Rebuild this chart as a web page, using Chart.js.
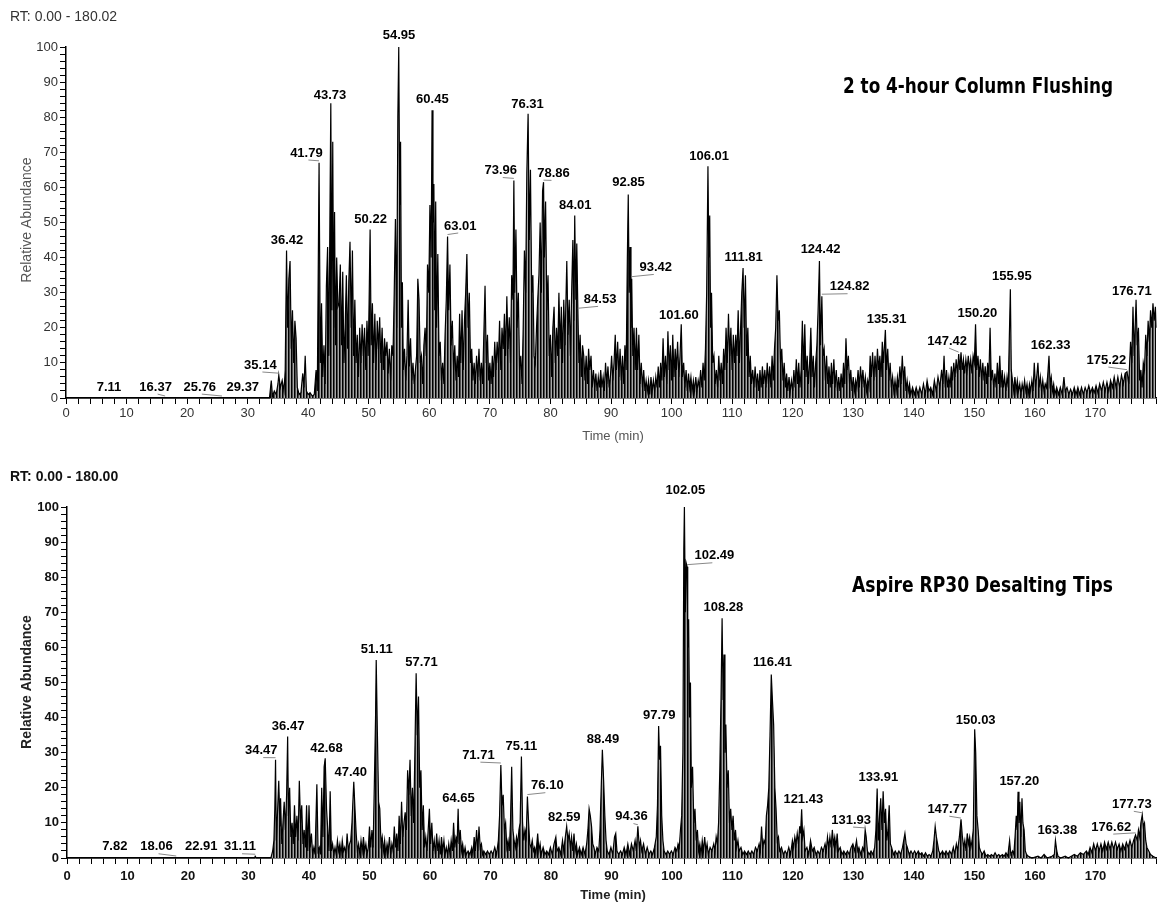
<!DOCTYPE html>
<html>
<head>
<meta charset="utf-8">
<script src="https://cdn.jsdelivr.net/npm/chart.js@4.4.0/dist/chart.umd.min.js"></script>
<style>
    body { margin: 0; background: #fff; }
    #wrap { position: relative; width: 1176px; height: 903px; }
    .panel { position: absolute; left: 0; width: 1176px; }
    #top_box { top: 0; height: 450px; }
    #bottom_box { top: 450px; height: 453px; }
</style>
</head>
<body>
<div id="wrap">
    <div class="panel" id="top_box"><canvas id="topChart"></canvas></div>
    <div class="panel" id="bottom_box"><canvas id="bottomChart"></canvas></div>
</div>
<script>
// ---- top run: 2 to 4-hour column flushing ----
const topTrace = [
    [0,0],[33.6,0],[33.9,5],[34.1,0.5],[34.4,2],[34.7,1],[35.0,4],[35.14,6.5],[35.4,3],[35.7,5],[36.0,2],[36.2,8],
    [36.42,42],[36.6,20],[36.8,34],[37.0,39],[37.2,14],[37.4,25],[37.6,10],[37.8,22],[38.0,17],[38.2,3],[38.5,1],[38.8,1.5],
    [39.1,7],[39.3,3],[39.5,12],[39.7,2],[40.0,1],[40.3,1.5],[40.7,0.5],[41.0,1],[41.3,8],[41.5,2],[41.79,67],[42.0,10],
    [42.2,27],[42.4,6],[42.6,15],[42.8,4],[43.0,32],[43.2,43],[43.4,12],[43.73,84],[43.9,25],[44.05,73],[44.2,20],[44.35,53],
    [44.5,15],[44.7,40],[44.9,26],[45.1,27],[45.3,38],[45.5,15],[45.7,36],[45.9,10],[46.1,20],[46.3,35],[46.5,14],[46.7,33],
    [46.9,44.5],[47.1,20],[47.3,42],[47.5,12],[47.7,28],[47.9,10],[48.1,18],[48.3,6],[48.5,20],[48.7,10],[48.9,21],[49.1,12],
    [49.3,20],[49.5,8],[49.7,22],[49.9,12],[50.05,27],[50.22,48],[50.4,15],[50.6,27],[50.8,10],[51.0,24],[51.2,8],[51.4,22],
    [51.6,14],[51.8,23],[52.0,10],[52.2,20],[52.4,8],[52.6,17],[52.8,12],[53.0,16],[53.2,7],[53.4,14],[53.6,5],[53.8,15],
    [54.0,12],[54.2,30],[54.4,51],[54.6,20],[54.8,80],[54.95,100],[55.1,55],[55.25,73],[55.4,20],[55.55,33],[55.7,8],[55.9,14],
    [56.1,5],[56.3,12],[56.5,28],[56.7,9],[56.9,17],[57.1,5],[57.3,10],[57.5,4],[57.7,8],[57.9,12],[58.1,34],[58.3,28],
    [58.5,10],[58.7,12],[58.9,4],[59.1,15],[59.3,20],[59.5,12],[59.7,38],[59.9,30],[60.1,55],[60.3,40],[60.45,82],[60.6,50],
    [60.75,61],[60.9,25],[61.05,56],[61.2,20],[61.4,41],[61.6,12],[61.8,16],[62.0,5],[62.2,10],[62.4,4],[62.6,18],[62.8,28],
    [63.01,46],[63.2,25],[63.4,38],[63.6,15],[63.8,22],[64.0,8],[64.2,15],[64.4,5],[64.6,12],[64.8,6],[65.0,24],[65.2,10],
    [65.4,25],[65.6,8],[65.8,22],[66.0,30],[66.2,41],[66.4,20],[66.6,30],[66.8,10],[67.0,14],[67.2,5],[67.4,10],[67.6,4],
    [67.8,12],[68.0,6],[68.2,14],[68.4,5],[68.6,10],[68.8,4],[69.0,18],[69.2,32],[69.4,10],[69.6,18],[69.8,5],[70.0,10],
    [70.2,4],[70.4,12],[70.6,6],[70.8,16],[71.0,8],[71.2,16],[71.4,10],[71.6,22],[71.8,8],[72.0,20],[72.2,14],[72.4,24],
    [72.6,12],[72.8,29],[73.0,14],[73.2,23],[73.4,10],[73.6,35],[73.8,28],[73.96,62],[74.1,30],[74.3,48],[74.5,20],[74.7,30],
    [74.9,8],[75.1,12],[75.3,4],[75.5,20],[75.7,42],[75.9,30],[76.1,64],[76.31,81],[76.5,45],[76.7,65],[76.9,30],[77.1,35],
    [77.3,12],[77.5,10],[77.7,20],[77.9,28],[78.1,35],[78.3,50],[78.5,30],[78.7,59],[78.86,61.5],[79.0,40],[79.2,56],[79.4,25],
    [79.6,35],[79.8,12],[80.0,18],[80.2,6],[80.4,20],[80.6,26],[80.8,10],[81.0,20],[81.2,12],[81.4,30],[81.6,14],[81.8,26],
    [82.0,10],[82.2,28],[82.4,15],[82.7,39],[82.9,18],[83.1,28],[83.3,12],[83.5,30],[83.7,45],[83.85,22],[84.01,52],[84.2,28],
    [84.35,44],[84.53,25],[84.7,10],[84.9,18],[85.1,6],[85.3,15],[85.5,12],[85.7,5],[85.9,12],[86.1,4],[86.3,14],[86.5,8],
    [86.7,12],[86.9,3],[87.1,8],[87.3,3],[87.5,7],[87.7,2],[87.9,6],[88.1,3],[88.3,8],[88.5,3],[88.7,6],[88.9,2],
    [89.1,10],[89.3,4],[89.5,9],[89.7,3],[89.9,6],[90.1,12],[90.3,5],[90.5,10],[90.7,18],[90.9,8],[91.1,16],[91.3,6],
    [91.5,14],[91.7,5],[91.9,12],[92.1,4],[92.3,15],[92.5,8],[92.7,40],[92.85,58],[93.0,30],[93.15,43],[93.3,20],[93.42,34],
    [93.6,12],[93.8,20],[94.0,8],[94.2,20],[94.4,8],[94.6,18],[94.8,4],[95.0,10],[95.2,3],[95.4,8],[95.6,2],[95.8,5],
    [96.0,2],[96.2,5],[96.4,1],[96.6,6],[96.8,2],[97.0,5],[97.2,2],[97.4,6],[97.6,3],[97.8,9],[98.0,3],[98.2,10],
    [98.4,5],[98.6,17],[98.8,6],[99.0,12],[99.2,4],[99.4,19],[99.6,8],[99.8,15],[100.0,5],[100.2,18],[100.4,6],[100.6,14],
    [100.8,8],[101.0,16],[101.2,6],[101.4,12],[101.6,21],[101.8,6],[102.0,10],[102.2,3],[102.4,8],[102.6,2],[102.8,7],[103.0,3],
    [103.2,6],[103.4,2],[103.6,5],[103.8,2],[104.0,6],[104.2,2],[104.4,5],[104.6,3],[104.8,8],[105.0,3],[105.2,10],[105.4,5],
    [105.6,14],[105.8,30],[106.01,66],[106.15,40],[106.3,52],[106.45,20],[106.6,30],[106.8,10],[107.0,12],[107.2,4],[107.4,8],[107.6,3],
    [107.8,12],[108.0,5],[108.2,10],[108.4,4],[108.6,14],[108.8,8],[109.0,20],[109.2,10],[109.4,24],[109.6,12],[109.8,20],[110.0,8],
    [110.2,18],[110.4,10],[110.6,18],[110.8,12],[111.0,25],[111.2,10],[111.4,20],[111.6,30],[111.81,37],[112.0,20],[112.2,35],[112.4,12],
    [112.6,20],[112.8,6],[113.0,12],[113.2,4],[113.4,8],[113.6,3],[113.8,9],[114.0,3],[114.2,7],[114.4,2],[114.6,8],[114.8,3],
    [115.0,9],[115.2,4],[115.4,8],[115.6,3],[115.8,10],[116.0,4],[116.2,9],[116.4,3],[116.6,12],[116.8,5],[117.0,14],[117.2,20],
    [117.4,35],[117.6,22],[117.8,25],[118.0,10],[118.2,14],[118.4,5],[118.6,10],[118.8,3],[119.0,7],[119.2,2],[119.4,6],[119.6,2],
    [119.8,5],[120.0,2],[120.2,8],[120.4,3],[120.6,11],[120.8,4],[121.0,10],[121.2,3],[121.4,8],[121.6,22],[121.8,8],[122.0,21],
    [122.2,6],[122.4,12],[122.6,4],[122.8,10],[123.0,20],[123.2,6],[123.4,12],[123.6,3],[123.8,10],[124.0,15],[124.2,25],[124.42,39],
    [124.6,15],[124.82,29],[125.0,12],[125.2,14],[125.4,5],[125.6,12],[125.8,4],[126.0,9],[126.2,3],[126.4,10],[126.6,4],[126.8,11],
    [127.0,3],[127.2,8],[127.4,2],[127.6,6],[127.8,2],[128.0,7],[128.2,3],[128.4,10],[128.6,4],[128.8,17],[129.0,8],[129.2,12],
    [129.4,4],[129.6,8],[129.8,2],[130.0,6],[130.2,2],[130.4,5],[130.6,3],[130.8,8],[131.0,3],[131.2,9],[131.4,4],[131.6,8],
    [131.8,3],[132.0,6],[132.2,2],[132.4,5],[132.6,3],[132.8,12],[133.0,6],[133.2,13],[133.4,5],[133.6,12],[133.8,6],[134.0,14],
    [134.2,8],[134.4,12],[134.6,6],[134.8,16],[135.0,10],[135.31,19.4],[135.5,8],[135.7,14],[135.9,5],[136.1,10],[136.3,3],[136.5,6],
    [136.7,2],[136.9,5],[137.1,2],[137.3,6],[137.5,3],[137.7,9],[137.9,4],[138.1,12],[138.3,5],[138.5,9],[138.7,2],[138.9,5],
    [139.1,2],[139.3,4],[139.5,1],[139.8,3],[140.1,1],[140.4,3],[140.7,1],[141.0,3],[141.3,1],[141.6,4],[141.9,1],[142.2,5],
    [142.5,2],[142.8,3],[143.1,1],[143.4,5],[143.7,2],[144.0,6],[144.3,3],[144.6,8],[144.8,4],[145.0,12],[145.2,3],[145.4,8],
    [145.6,3],[145.8,6],[146.0,3],[146.2,9],[146.4,5],[146.6,10],[146.8,6],[147.0,11],[147.2,7],[147.42,12.5],[147.6,8],[147.8,13],
    [148.0,8],[148.2,11],[148.4,7],[148.6,11],[148.8,8],[149.0,12],[149.2,8],[149.4,11],[149.6,7],[149.8,12],[150.0,10],[150.2,21],
    [150.4,8],[150.6,12],[150.8,6],[151.0,11],[151.2,5],[151.4,10],[151.6,5],[151.8,9],[152.0,4],[152.2,10],[152.4,6],[152.6,20],
    [152.8,5],[153.0,8],[153.2,3],[153.4,7],[153.6,3],[153.8,10],[154.0,4],[154.2,12],[154.4,3],[154.6,8],[154.8,3],[155.0,6],
    [155.2,2],[155.4,6],[155.6,3],[155.95,31],[156.1,8],[156.3,5],[156.5,2],[156.7,6],[156.9,2],[157.1,5],[157.3,2],[157.5,4],
    [157.7,1],[157.9,4],[158.1,2],[158.3,5],[158.5,2],[158.7,4],[158.9,1],[159.1,4],[159.3,2],[159.5,5],[159.7,2],[159.9,10],
    [160.1,3],[160.3,6],[160.5,10],[160.7,3],[160.9,6],[161.1,2],[161.3,5],[161.5,2],[161.7,4],[161.9,3],[162.1,6],[162.33,12],
    [162.5,4],[162.7,6],[162.9,2],[163.1,4],[163.3,1],[163.6,3],[163.9,1],[164.2,3],[164.5,1],[164.8,6],[165.0,2],[165.3,3],
    [165.6,1],[165.9,2.5],[166.2,1],[166.5,3],[166.8,1],[167.1,3],[167.4,1],[167.7,3],[168.0,1],[168.3,3],[168.6,1.5],[168.9,3.5],
    [169.2,1.5],[169.5,3],[169.8,1.5],[170.1,3.5],[170.4,1.5],[170.7,4],[171.0,2],[171.3,4.5],[171.6,2],[171.9,4.5],[172.2,2],[172.5,5],
    [172.8,3],[173.1,6],[173.4,3],[173.7,6],[174.0,3],[174.3,6.5],[174.6,4],[174.9,7],[175.22,7.5],[175.5,4],[175.8,16],[176.0,10],
    [176.2,26],[176.4,12],[176.71,28],[176.9,15],[177.1,20],[177.3,5],[177.5,8],[177.7,3],[177.9,10],[178.1,8],[178.3,18],[178.5,12],
    [178.7,22],[178.9,16],[179.1,25],[179.3,20],[179.5,27],[179.7,22],[179.9,26],[180,20]
];
const topPeakTimes   = [7.11, 16.37, 25.76, 29.37, 35.14, 36.42, 41.79, 43.73, 50.22, 54.95, 60.45, 63.01, 73.96, 76.31, 78.86, 84.01, 84.53, 92.85, 93.42, 101.60, 106.01, 111.81, 124.42, 124.82, 135.31, 147.42, 150.20, 155.95, 162.33, 175.22, 176.71];
const topPeakHeights = [0, 0, 0, 0, 6.5, 42, 67, 84, 48, 100, 82, 46, 62, 81, 61.5, 52, 25, 58, 34, 21, 66, 37, 39, 29, 19.4, 12.5, 21, 31, 12, 7.5, 28];
const topLabelTimes  = [7.1, 14.8, 22.1, 29.2, 32.1, 36.5, 39.7, 43.6, 50.3, 55.0, 60.5, 65.1, 71.8, 76.2, 80.5, 84.1, 88.2, 92.9, 97.4, 101.2, 106.2, 111.9, 124.6, 129.4, 135.5, 145.5, 150.5, 156.2, 162.6, 171.8, 176.0];
const topLabelLevels = [3.1, 3.1, 3.1, 3.1, 9.4, 45, 69.8, 86.3, 51, 103.4, 85, 49, 64.8, 83.7, 64, 55, 28.1, 61.3, 37.2, 23.6, 68.9, 40.1, 42.4, 31.7, 22.4, 16.2, 24.1, 34.5, 15.1, 10.8, 30.5];

// ---- bottom run: Aspire RP30 desalting tips ----
const bottomTrace = [
    [0,0],[31.0,0],[31.11,0.5],[31.3,0],[33.7,0],[34.0,2],[34.2,5],[34.35,14],[34.47,28],[34.6,5],[34.8,13],[35.0,22],
    [35.2,9],[35.3,17],[35.5,4],[35.7,10],[35.9,16],[36.1,8],[36.3,18],[36.47,34.6],[36.6,12],[36.8,20],[37.0,6],[37.2,10],
    [37.4,4],[37.6,15],[37.8,6],[38.0,12],[38.2,5],[38.4,22],[38.6,10],[38.8,15],[39.0,4],[39.2,8],[39.4,3],[39.6,15],
    [39.8,2],[40.0,15],[40.2,3],[40.4,7],[40.6,1],[40.8,3],[41.0,1],[41.3,21],[41.5,2],[41.7,3],[41.9,1],[42.1,20],
    [42.3,6],[42.5,26],[42.68,28.4],[42.9,14],[43.1,8],[43.3,2],[43.5,19],[43.7,2],[43.9,4],[44.1,1],[44.3,3],[44.5,1],
    [44.7,5],[44.9,2],[45.1,4],[45.3,1],[45.5,5],[45.7,2],[45.9,3],[46.1,1],[46.3,7],[46.5,2],[46.7,4],[46.9,5],
    [47.1,10],[47.4,21.7],[47.6,14],[47.8,7],[48.0,2],[48.2,4],[48.4,1],[48.6,5],[48.8,2],[49.0,6],[49.2,2],[49.4,4],
    [49.6,1],[49.8,3],[50.0,9],[50.2,3],[50.4,8],[50.6,3],[50.8,21],[51.0,40],[51.11,56.4],[51.3,36],[51.5,16],[51.7,14],
    [51.9,4],[52.1,6],[52.3,2],[52.5,5],[52.7,1],[52.9,4],[53.1,2],[53.3,6],[53.5,1],[53.7,4],[53.9,2],[54.1,9],
    [54.3,3],[54.5,7],[54.7,2],[54.9,12],[55.1,4],[55.3,16],[55.5,6],[55.7,10],[55.9,13],[56.1,8],[56.3,25],[56.5,18],
    [56.7,28],[56.9,12],[57.1,20],[57.3,10],[57.5,30],[57.71,52.6],[57.9,35],[58.1,46],[58.3,20],[58.5,25],[58.7,8],[58.9,15],
    [59.1,3],[59.3,6],[59.5,2],[59.7,8],[59.9,14],[60.1,4],[60.3,10],[60.5,2],[60.7,5],[60.9,1],[61.1,7],[61.3,2],
    [61.5,5],[61.7,1],[61.9,6],[62.1,2],[62.3,5],[62.5,1],[62.7,3],[62.9,1],[63.1,4],[63.3,1],[63.5,5],[63.7,2],
    [63.9,10],[64.1,3],[64.3,6],[64.5,5],[64.65,14],[64.8,4],[65.0,8],[65.2,2],[65.4,4],[65.6,1],[65.8,3],[66.0,1],
    [66.3,2],[66.6,1],[66.9,3],[67.1,1],[67.3,6],[67.5,2],[67.7,8],[67.9,2],[68.1,9],[68.3,3],[68.5,4],[68.7,1],
    [68.9,2],[69.2,1],[69.5,2],[69.8,1],[70.1,2],[70.4,1],[70.7,3],[71.0,1],[71.3,5],[71.5,12],[71.71,26.5],[71.9,15],
    [72.1,18],[72.3,8],[72.5,10],[72.7,3],[72.9,5],[73.1,2],[73.3,10],[73.5,26],[73.7,8],[73.9,5],[74.1,3],[74.3,6],
    [74.5,4],[74.7,8],[74.9,10],[75.11,28.9],[75.3,10],[75.5,5],[75.7,8],[75.9,6],[76.1,17.5],[76.3,10],[76.5,4],[76.7,3],
    [76.9,5],[77.1,2],[77.3,3],[77.5,1],[77.8,7],[78.0,2],[78.2,4],[78.4,1],[78.7,3],[79.0,1],[79.3,2],[79.6,1],
    [79.9,3],[80.2,1],[80.5,4],[80.8,6],[81.0,2],[81.3,3],[81.6,1],[81.9,5],[82.1,2],[82.3,5],[82.59,9],[82.8,5],
    [83.0,7],[83.2,3],[83.4,6],[83.6,2],[83.8,7],[84.0,2],[84.2,4],[84.4,1],[84.7,3],[85.0,1],[85.3,3],[85.6,1],
    [85.9,4],[86.1,8],[86.3,14],[86.5,12],[86.7,9],[86.9,4],[87.1,3],[87.3,1],[87.6,3],[87.9,2],[88.1,8],[88.3,20],
    [88.49,30.8],[88.7,22],[88.9,12],[89.1,5],[89.3,2],[89.6,1],[89.9,3],[90.2,1],[90.5,6],[90.7,7],[90.9,2],[91.2,1],
    [91.5,2],[91.8,1],[92.1,3],[92.4,1],[92.7,4],[93.0,1],[93.3,4],[93.6,2],[93.9,5],[94.1,2],[94.36,9],[94.6,3],
    [94.8,5],[95.0,2],[95.3,4],[95.6,1],[95.9,3],[96.2,1],[96.5,2],[96.8,1],[97.1,3],[97.4,6],[97.6,15],[97.79,37.6],
    [97.95,28],[98.1,32],[98.3,12],[98.5,5],[98.7,2],[99.0,1],[99.3,2],[99.6,1],[99.9,2],[100.2,1],[100.5,3],[100.8,2],
    [101.0,4],[101.2,3],[101.4,8],[101.6,12],[101.8,30],[101.95,88],[102.05,100],[102.2,70],[102.35,84],[102.49,83],[102.6,60],[102.75,68],
    [102.9,40],[103.05,50],[103.2,20],[103.4,26],[103.6,10],[103.8,14],[104.0,5],[104.2,8],[104.4,2],[104.6,4],[104.8,1],[105.0,5],
    [105.2,2],[105.4,6],[105.6,2],[105.8,4],[106.0,1],[106.3,3],[106.6,2],[106.9,4],[107.1,2],[107.3,6],[107.5,4],[107.7,10],
    [107.9,25],[108.1,45],[108.28,68.3],[108.45,45],[108.6,58],[108.75,30],[108.9,38],[109.1,20],[109.3,25],[109.5,10],[109.7,14],[109.9,8],
    [110.1,12],[110.3,5],[110.5,8],[110.7,3],[110.9,5],[111.1,2],[111.4,3],[111.7,1],[112.0,2],[112.3,1],[112.6,2],[112.9,1],
    [113.2,2],[113.5,1],[113.8,3],[114.1,2],[114.4,4],[114.6,2],[114.8,9],[115.0,3],[115.2,5],[115.4,4],[115.6,12],[115.8,15],
    [116.0,20],[116.2,35],[116.41,52.3],[116.6,45],[116.8,38],[117.0,20],[117.2,14],[117.4,5],[117.6,6],[117.8,2],[118.1,3],[118.4,1],
    [118.7,2],[119.0,1],[119.3,3],[119.6,1],[119.9,5],[120.1,3],[120.3,6],[120.5,4],[120.7,7],[120.9,4],[121.1,9],[121.25,7],
    [121.43,13.9],[121.6,6],[121.8,8],[122.0,2],[122.3,3],[122.6,1],[122.9,5],[123.2,2],[123.5,3],[123.8,1],[124.1,2],[124.4,1],
    [124.7,3],[125.0,2],[125.3,4],[125.5,2],[125.7,6],[125.9,3],[126.1,6],[126.3,3],[126.5,8],[126.7,4],[126.9,6],[127.1,3],
    [127.3,7],[127.5,2],[127.8,3],[128.1,1],[128.4,2],[128.7,1],[129.0,2],[129.3,1],[129.6,3],[129.9,4],[130.2,2],[130.5,5],
    [130.7,2],[130.9,3],[131.2,1],[131.5,3],[131.7,2],[131.93,8],[132.1,6],[132.3,2],[132.6,1],[132.9,2],[133.2,1],[133.5,3],
    [133.7,8],[133.91,19.8],[134.1,5],[134.3,12],[134.5,17],[134.7,8],[134.9,19],[135.1,10],[135.3,14],[135.5,5],[135.7,8],[135.9,15],
    [136.1,4],[136.3,3],[136.6,1],[136.9,2],[137.2,1],[137.5,2],[137.8,1],[138.1,3],[138.3,5],[138.5,7],[138.7,4],[138.9,3],
    [139.2,1],[139.5,2],[139.8,1],[140.1,2],[140.4,1],[140.7,2],[141.0,1],[141.3,1.5],[141.6,0.5],[141.9,1.5],[142.2,0.5],[142.5,1],
    [142.8,0.5],[143.1,2],[143.3,5],[143.5,9],[143.7,6],[143.9,4],[144.1,2],[144.4,1],[144.7,2],[145.0,1],[145.3,2],[145.6,1],
    [145.9,2],[146.2,1],[146.5,3],[146.7,1],[147.0,4],[147.2,2],[147.5,6],[147.77,11],[148.0,6],[148.2,3],[148.4,5],[148.6,2],
    [148.8,7],[149.0,4],[149.2,6],[149.4,3],[149.6,5],[149.8,8],[150.03,36.7],[150.2,30],[150.4,12],[150.6,8],[150.8,3],[151.0,2],
    [151.3,1],[151.6,2],[151.9,0.5],[152.2,1],[152.5,0.5],[152.8,1],[153.1,0.5],[153.4,1.5],[153.7,0.5],[154.0,1],[154.3,0.5],[154.6,1],
    [154.9,0.5],[155.2,1.5],[155.5,0.5],[155.8,5],[156.0,1],[156.3,2],[156.5,1],[156.7,6],[156.9,12],[157.05,8],[157.2,18.9],[157.35,10],
    [157.5,16],[157.65,6],[157.85,17],[158.0,10],[158.2,8],[158.4,2],[158.6,1],[158.9,0.5],[159.5,0],[160.5,0.5],[161.0,0],[161.5,1],
    [162.0,0],[162.8,0.5],[163.2,1],[163.38,5],[163.6,2],[163.8,0.5],[164.2,0],[165.0,0.5],[165.5,0],[166.0,0.5],[166.5,1],[167.0,0.5],
    [167.5,1.5],[168.0,1],[168.5,2],[168.8,1],[169.1,3],[169.4,1.5],[169.7,4],[170.0,2],[170.3,4],[170.6,2],[170.9,4],[171.2,2],
    [171.5,4.5],[171.8,2.5],[172.1,4.5],[172.4,2.5],[172.7,4.5],[173.0,2.5],[173.3,4.5],[173.6,2.5],[173.9,4],[174.2,2],[174.5,4],[174.8,2.5],
    [175.1,4.5],[175.4,3],[175.7,5],[176.0,3],[176.3,5],[176.62,6.6],[176.9,5],[177.1,8],[177.3,6],[177.5,10],[177.73,12.3],[177.9,9],
    [178.1,10],[178.3,5],[178.5,3],[178.8,2],[179.1,1],[179.5,0.5],[180,0]
];
const bottomPeakTimes   = [7.82, 18.06, 22.91, 31.11, 34.47, 36.47, 42.68, 47.40, 51.11, 57.71, 64.65, 71.71, 75.11, 76.10, 82.59, 88.49, 94.36, 97.79, 102.05, 102.49, 108.28, 116.41, 121.43, 131.93, 133.91, 147.77, 150.03, 157.20, 163.38, 176.62, 177.73];
const bottomPeakHeights = [0, 0, 0, 0.5, 28, 34.6, 28.4, 21.7, 56.4, 52.6, 14.2, 26.5, 28.9, 17.5, 8.9, 30.8, 8.9, 37.6, 100, 83, 68.3, 52.3, 13.9, 8, 19.8, 10.8, 36.7, 18.9, 5.1, 6.6, 12.3];
const bottomLabelTimes  = [7.9, 14.8, 22.2, 28.6, 32.1, 36.55, 42.9, 46.9, 51.2, 58.6, 64.7, 68.0, 75.1, 79.4, 82.2, 88.6, 93.3, 97.9, 102.2, 107.0, 108.5, 116.6, 121.7, 129.6, 134.1, 145.5, 150.2, 157.4, 163.7, 172.6, 176.0];
const bottomLabelLevels = [3.2, 3.2, 3.2, 3.2, 30.6, 37.4, 31.1, 24.3, 59.3, 55.6, 17, 29.3, 31.7, 20.6, 11.7, 33.8, 11.8, 40.7, 104.6, 86.1, 71.3, 55.6, 16.7, 10.8, 23, 13.9, 39.3, 21.7, 7.9, 8.8, 15.3];


function fitText(ctx, text, x, baseline, width) {
    // draw condensed text stretched to the measured width of the original
    var w = ctx.measureText(text).width;
    ctx.save();
    ctx.translate(x, baseline);
    ctx.scale(width / w, 1);
    ctx.textAlign = "left";
    ctx.textBaseline = "alphabetic";
    ctx.fillText(text, 0, 0);
    ctx.restore();
}

// vertical stick texture used to fill under the trace
function stickPattern() {
    var pc = document.createElement("canvas");
    pc.width = 3;
    pc.height = 1;
    var pctx = pc.getContext("2d");
    var cols = ["#000000", "#505050", "#a8a8a8"];
    for (var i = 0; i < cols.length; i++) {
        pctx.fillStyle = cols[i];
        pctx.fillRect(i, 0, 1, 1);
    }
    return pctx.createPattern(pc, "repeat");
}

function makePanel(canvasId, cfg) {
    var weight = cfg.bold ? "bold " : "";
    var tickColor = cfg.bold ? "#111" : "#333";

    var textPlugin = {
        id: "chromText",
        afterDraw(chart) {
            var ctx = chart.ctx;
            var xs = chart.scales.x;
            var ys = chart.scales.y;
            ctx.save();

            // RT header
            ctx.fillStyle = tickColor;
            ctx.font = weight + "14px 'Liberation Sans', Arial, sans-serif";
            ctx.textAlign = "left";
            ctx.textBaseline = "middle";
            ctx.fillText(cfg.header, 10, cfg.headerY);

            // axis titles
            ctx.fillStyle = cfg.bold ? "#222" : "#555";
            ctx.font = weight + "13px 'Liberation Sans', Arial, sans-serif";
            ctx.textAlign = "center";
            ctx.fillText("Time (min)", 613, cfg.timeY);
            ctx.save();
            ctx.translate(27, cfg.abundY);
            ctx.rotate(-Math.PI / 2);
            ctx.font = weight + "14px 'Liberation Sans', Arial, sans-serif";
            ctx.fillText("Relative Abundance", 0, 0);
            ctx.restore();

            // sample annotation
            ctx.fillStyle = "#000";
            ctx.font = "bold 21px 'Liberation Sans Narrow', 'DejaVu Sans Condensed', 'Liberation Sans', sans-serif";
            fitText(ctx, cfg.note, cfg.noteX, cfg.noteBase, cfg.noteW);

            // peak labels with leader lines
            ctx.font = "bold 13px 'Liberation Sans', Arial, sans-serif";
            for (var i = 0; i < cfg.peakT.length; i++) {
                var px = xs.getPixelForValue(cfg.peakT[i]);
                var py = ys.getPixelForValue(cfg.peakH[i]);
                var lx = xs.getPixelForValue(cfg.labelT[i]);
                var ly = ys.getPixelForValue(cfg.labelL[i]);
                var txt = cfg.peakT[i].toFixed(2);
                if (Math.abs(px - lx) > 6) {
                    var dir = px > lx ? 1 : -1;
                    ctx.strokeStyle = "#888";
                    ctx.lineWidth = 1;
                    ctx.beginPath();
                    ctx.moveTo(lx + dir * 2, ly + 7);
                    ctx.lineTo(px, py - 2);
                    ctx.stroke();
                }
                ctx.fillStyle = "#000";
                ctx.textAlign = "center";
                ctx.textBaseline = "middle";
                ctx.fillText(txt, lx, ly);
            }
            ctx.restore();
        }
    };

    var isTen = v => Math.abs(v - Math.round(v / 10) * 10) < 1e-6;

    return new Chart(canvasId, {
        type: "line",
        data: {
            datasets: [{
                data: cfg.trace.map(p => ({x: p[0], y: p[1]})),
                borderColor: "#000",
                borderWidth: 1.2,
                backgroundColor: stickPattern(),
                pointRadius: 0,
                tension: 0,
                fill: "origin",
                clip: false
            }]
        },
        options: {
            responsive: true,
            maintainAspectRatio: false,
            animation: false,
            devicePixelRatio: 1,
            layout: {padding: {left: 0, right: 20, top: cfg.areaTop, bottom: 0}},
            plugins: {legend: {display: false}, tooltip: {enabled: false}},
            scales: {
                x: {
                    type: "linear",
                    min: 0,
                    max: 180,
                    afterFit: s => { s.height = cfg.xHeight; },
                    ticks: {
                        stepSize: 2,
                        autoSkip: false,
                        maxRotation: 0,
                        padding: cfg.xPad,
                        color: tickColor,
                        font: {family: "'Liberation Sans', Arial, sans-serif", size: 13, weight: cfg.bold ? "bold" : "normal"},
                        callback: v => (isTen(v) && v < 180) ? Math.round(v) : ""
                    },
                    grid: {drawOnChartArea: false, drawTicks: true, tickLength: 6, color: "#000", lineWidth: 1},
                    border: {display: true, color: "#000", width: 1.5}
                },
                y: {
                    min: 0,
                    max: 100,
                    afterFit: s => { s.width = cfg.yWidth; },
                    ticks: {
                        stepSize: 2,
                        autoSkip: false,
                        padding: 2,
                        color: tickColor,
                        font: {family: "'Liberation Sans', Arial, sans-serif", size: 13, weight: cfg.bold ? "bold" : "normal"},
                        callback: v => isTen(v) ? Math.round(v) : ""
                    },
                    grid: {drawOnChartArea: false, drawTicks: true, tickLength: 6, color: "#000", lineWidth: 1},
                    border: {display: true, color: "#000", width: 1.5}
                }
            }
        },
        plugins: [textPlugin]
    });
}

makePanel("topChart", {
    trace: topTrace,
    peakT: topPeakTimes, peakH: topPeakHeights, labelT: topLabelTimes, labelL: topLabelLevels,
    header: "RT: 0.00 - 180.02", headerY: 17,
    note: "2 to 4-hour Column Flushing", noteX: 843, noteBase: 93, noteW: 270,
    timeY: 436, abundY: 220,
    areaTop: 47, xHeight: 52, yWidth: 66, xPad: 2, bold: false
});

makePanel("bottomChart", {
    trace: bottomTrace,
    peakT: bottomPeakTimes, peakH: bottomPeakHeights, labelT: bottomLabelTimes, labelL: bottomLabelLevels,
    header: "RT: 0.00 - 180.00", headerY: 27,
    note: "Aspire RP30 Desalting Tips", noteX: 852, noteBase: 142, noteW: 261,
    timeY: 445, abundY: 232,
    areaTop: 57, xHeight: 45, yWidth: 67, xPad: 5, bold: true
});
</script>
</body>
</html>
